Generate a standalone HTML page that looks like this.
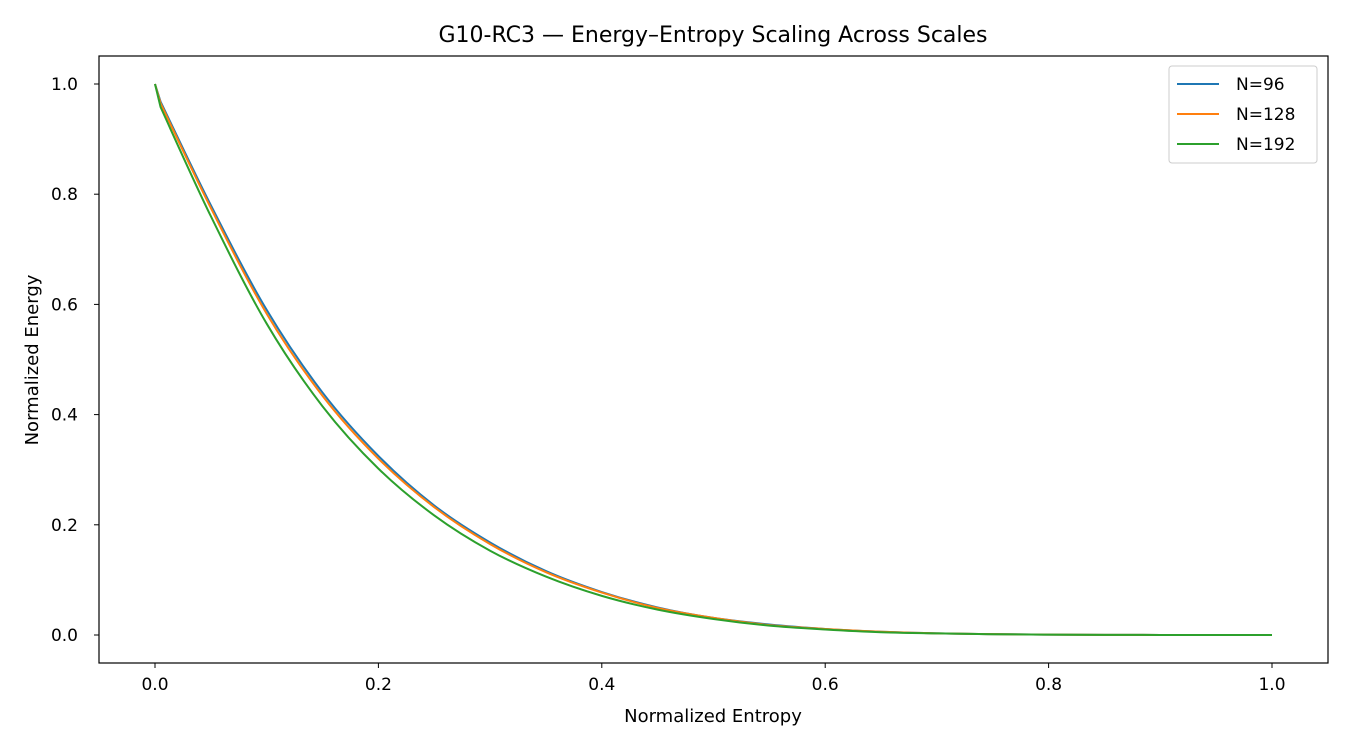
<!DOCTYPE html>
<html><head><meta charset="utf-8"><style>
body{margin:0;background:#fff;font-family:"Liberation Sans","DejaVu Sans",sans-serif}
</style></head><body>
<svg id="chart" width="1350" height="750" xmlns="http://www.w3.org/2000/svg" font-family="DejaVu Sans, Liberation Sans, sans-serif">
<text x="713" y="42" font-size="22" text-anchor="middle">G10-RC3 — Energy–Entropy Scaling Across Scales</text>
<text x="713" y="722" font-size="18" text-anchor="middle">Normalized Entropy</text>
<text transform="translate(38,360) rotate(-90)" font-size="18" text-anchor="middle">Normalized Energy</text>
<g id="ticks"></g>
<g id="series"></g>
<rect x="99" y="56" width="1229" height="607" fill="none" stroke="#000" stroke-width="1.2"/>
<g id="legend"></g>
</svg>
<script>
const xs=[0,0.005,0.05,0.1,0.15,0.2,0.25,0.3,0.35,0.4,0.45,0.5,0.55,0.6,0.65,0.7,0.75,0.8,0.85,0.9,0.95,1.0];
const n96=[1.0,0.968,0.78,0.59,0.44,0.325,0.235,0.168,0.116,0.078,0.050,0.031,0.019,0.011,0.006,0.003,0.0015,0.0006,0.0002,0.0001,0,0];
const n128=[1.0,0.965,0.775,0.583,0.434,0.32,0.232,0.165,0.114,0.077,0.049,0.031,0.018,0.011,0.006,0.003,0.0015,0.0006,0.0002,0.0001,0,0];
const n192=[1.0,0.958,0.76,0.565,0.415,0.302,0.217,0.153,0.106,0.071,0.046,0.029,0.017,0.010,0.005,0.003,0.0014,0.0006,0.0002,0.0001,0,0];
const seriesNames=["N=96","N=128","N=192"];
const colors=["#1f77b4","#ff7f0e","#2ca02c"];
const xTicks=[0,0.2,0.4,0.6,0.8,1.0];
const yTicks=[0,0.2,0.4,0.6,0.8,1.0];
const NS="http://www.w3.org/2000/svg";
const X=v=>155+v*1117, Y=v=>635-v*551;
function mk(t,a,p){const e=document.createElementNS(NS,t);for(const k in a)e.setAttribute(k,a[k]);p.appendChild(e);return e;}
const tg=document.getElementById('ticks');
xTicks.forEach(t=>{
 const l=mk('line',{x1:X(t),x2:X(t),y1:663,y2:668,stroke:'#000'},tg);
 
 
 const s=mk('text',{x:X(t),y:690,'font-size':17,'text-anchor':'middle'},tg);s.textContent=t.toFixed(1);
 
 
});
yTicks.forEach(t=>{
 const l=mk('line',{x1:94,x2:99,y1:Y(t),y2:Y(t),stroke:'#000'},tg);
 
 
 const s=mk('text',{x:78,y:Y(t)+6,'font-size':17,'text-anchor':'end'},tg);s.textContent=t.toFixed(1);
 
 
});
const sg=document.getElementById('series');
[n96,n128,n192].forEach((d,i)=>{
 const pts=xs.map((x,j)=>[X(x),Y(d[j])]);
 let p='M'+pts[0][0]+','+pts[0][1]+' L'+pts[1][0]+','+pts[1][1];
 for(let j=1;j<pts.length-1;j++){
  const p0=pts[Math.max(1,j-1)],p1=pts[j],p2=pts[j+1],p3=pts[Math.min(pts.length-1,j+2)];
  const c1=[p1[0]+(p2[0]-p0[0])/6,p1[1]+(p2[1]-p0[1])/6],c2=[p2[0]-(p3[0]-p1[0])/6,p2[1]-(p3[1]-p1[1])/6];
  p+=` C${c1[0]},${c1[1]} ${c2[0]},${c2[1]} ${p2[0]},${p2[1]}`;
 }
 const e=mk('path',{d:p,fill:'none',stroke:colors[i],'stroke-width':2},sg);
 
 
});
const lg=document.getElementById('legend');
mk('rect',{x:1169,y:66,width:148,height:97,rx:3,fill:'#fff',stroke:'#ccc'},lg);
seriesNames.forEach((n,i)=>{
 const y=84+i*30;
 const l=mk('line',{x1:1177,x2:1219,y1:y,y2:y,stroke:colors[i],'stroke-width':2},lg);
 
 
 const t=mk('text',{x:1236,y:y+6,'font-size':17},lg);t.textContent=n;
 
 
});
</script>
</body></html>
